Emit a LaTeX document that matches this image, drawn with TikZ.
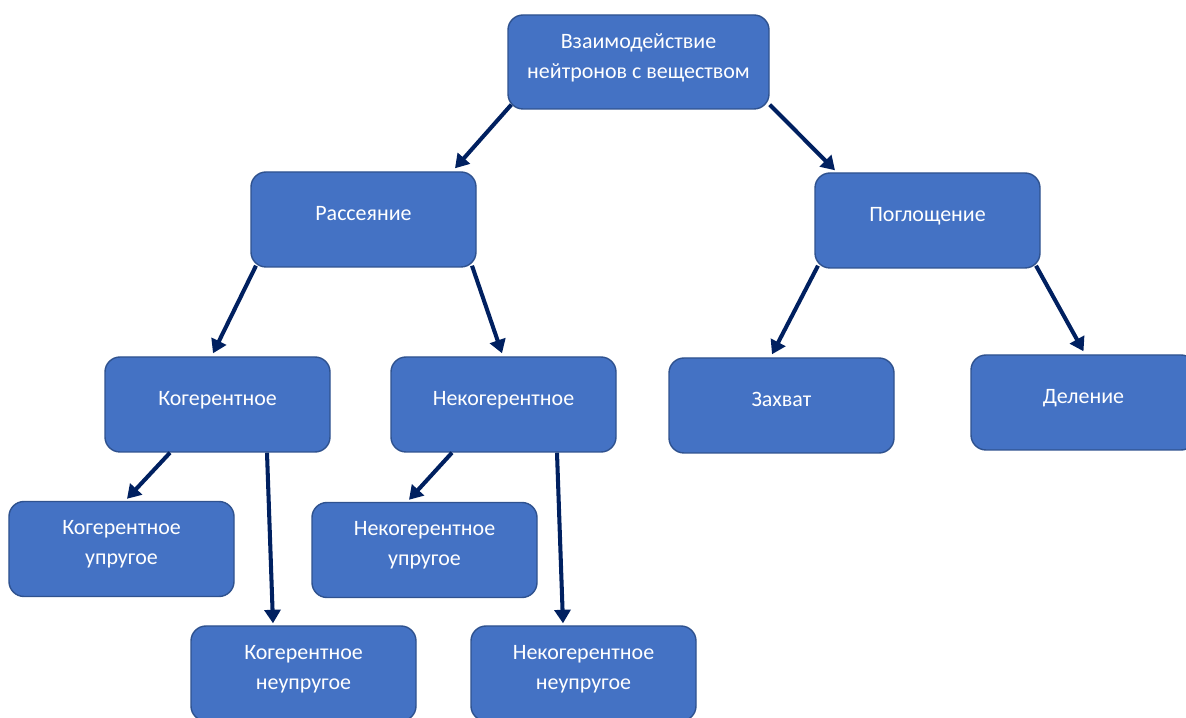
\documentclass[tikz,border=0pt]{standalone}
\usepackage{fontspec}
\setmainfont{Carlito}
\usepackage{tikz}
\usetikzlibrary{arrows.meta}
\usetikzlibrary{calc}
\definecolor{boxfill}{HTML}{4472C4}
\definecolor{boxline}{HTML}{2F528F}
\definecolor{arrline}{HTML}{002060}
\tikzset{
  box/.style={draw=boxline, line width=0.8pt, fill=boxfill, rounded corners=0.3cm,
    minimum width=4.5cm, minimum height=1.9cm, text=white, align=center,
    font=\fontsize{12.5pt}{17pt}\selectfont,
    execute at end node={\rule[-7pt]{0pt}{0pt}}},
  arr/.style={draw=arrline, line width=2.3pt, -{Triangle[length=0.27cm, width=0.32cm]}}
}
\begin{document}
\begin{tikzpicture}
            \useasboundingbox (0,0) rectangle (23.72,-14.36);
            \clip (0,0) rectangle (23.72,-14.36);
            % boxes
            \node[box, minimum width=5.22cm, minimum height=1.88cm] (top) at (12.77,-1.24) {Взаимодействие\\нейтронов с веществом};
            \node[box] (scat) at (7.27,-4.39) {Рассеяние};
            \node[box] (abs) at (18.55,-4.41) {Поглощение};
            \node[box] (coh) at (4.35,-8.09) {Когерентное};
            \node[box] (incoh) at (10.07,-8.09) {Некогерентное};
            \node[box] (capt) at (15.63,-8.11) {Захват};
            \node[box] (fis) at (21.67,-8.05) {Деление};
            \node[box] (cohel) at (2.43,-10.98) {Когерентное\\упругое};
            \node[box] (incohel) at (8.49,-11.0) {Некогерентное\\упругое};
            \node[box] (cohin) at (6.07,-13.47) {Когерентное\\неупругое};
            \node[box] (incohin) at (11.67,-13.47) {Некогерентное\\неупругое};
            % arrows
            \draw[arr] ($(top.south west)+(0.08,0.1)$) -- ([xshift=1.83cm,yshift=0.06cm]scat.north);
            \draw[arr] ($(top.south east)+(0,0.1)$) -- ([xshift=-1.85cm,yshift=0.04cm]abs.north);
            \draw[arr] ([xshift=-2.15cm,yshift=0.04cm]scat.south) -- ([xshift=-0.09cm,yshift=0.06cm]coh.north);
            \draw[arr] ([xshift=2.17cm,yshift=0.04cm]scat.south) -- ([xshift=-0.03cm,yshift=0.06cm]incoh.north);
            \draw[arr] ([xshift=-2.19cm,yshift=0.06cm]abs.south) -- ([xshift=-0.19cm,yshift=0.06cm]capt.north);
            \draw[arr] ([xshift=2.17cm,yshift=0.06cm]abs.south) -- ([xshift=0cm,yshift=0.06cm]fis.north);
            \draw[arr] ([xshift=-0.95cm]coh.south) -- ([xshift=0.11cm,yshift=0.04cm]cohel.north);
            \draw[arr] ([xshift=0.99cm]coh.south) -- ([xshift=-0.61cm,yshift=0.04cm]cohin.north);
            \draw[arr] ([xshift=-1.03cm]incoh.south) -- ([xshift=-0.31cm,yshift=0.04cm]incohel.north);
            \draw[arr] ([xshift=1.07cm]incoh.south) -- ([xshift=-0.41cm,yshift=0.04cm]incohin.north);
        \end{tikzpicture}
\end{document}
